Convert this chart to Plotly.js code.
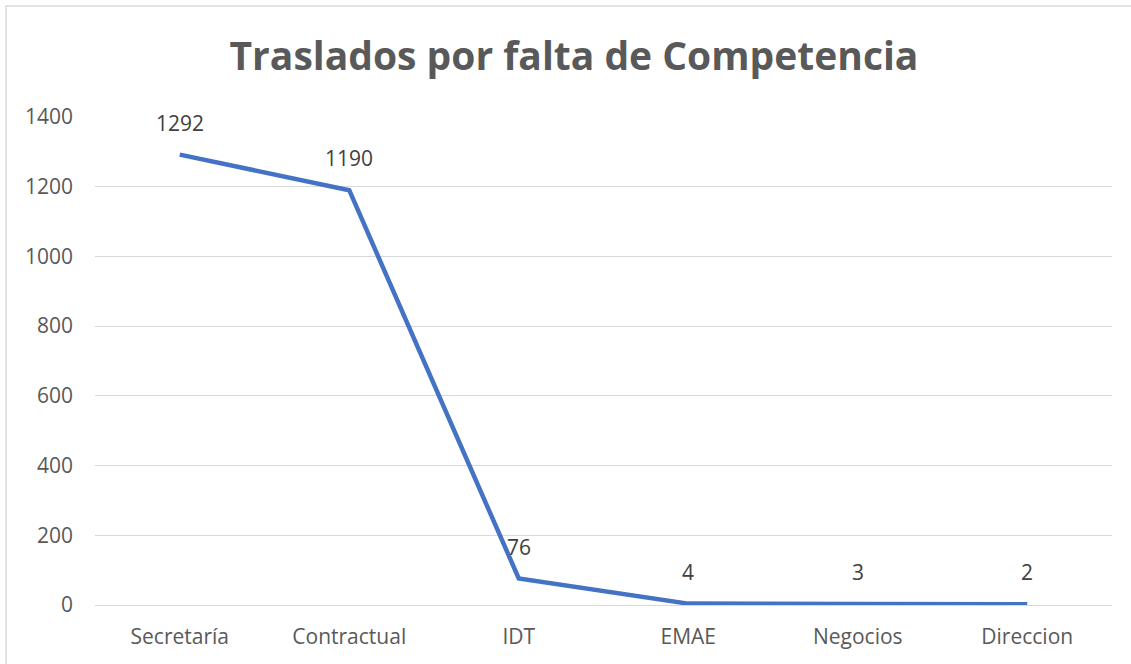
<!DOCTYPE html>
<html>
<head>
<meta charset="utf-8">
<script src="https://cdn.plot.ly/plotly-3.0.1.min.js"></script>
<style>
  html, body { margin: 0; padding: 0; background: #fff; }
  #myDiv { width: 1131px; height: 664px; }
</style>
</head>
<body>
<div id="myDiv"></div>
<script>
var categories = ['Secretaría', 'Contractual', 'IDT', 'EMAE', 'Negocios', 'Direccion'];
var traslados = [1292, 1190, 76, 4, 3, 2];
var yTicks = [0, 200, 400, 600, 800, 1000, 1200, 1400];

var textColor = '#595959';
var labelColor = '#404040';
var fontFamily = 'Open Sans, Liberation Sans, sans-serif';

var data = [{
  x: categories,
  y: traslados,
  type: 'scatter',
  mode: 'lines',
  line: {color: '#4472C4', width: 4.5},
  hoverinfo: 'x+y'
}];

// data labels above each point
var labels = categories.map(function (c, i) {
  return {
    x: c,
    y: traslados[i],
    xref: 'x',
    yref: 'y',
    text: String(traslados[i]),
    showarrow: false,
    yshift: 32,
    font: {family: fontFamily, size: 21, color: labelColor}
  };
});

var layout = {
  title: {
    text: '<b>Traslados por falta de Competencia</b>',
    font: {family: fontFamily, size: 39, color: textColor},
    x: 0.5075,
    xref: 'container',
    xanchor: 'center',
    y: 0.915,
    yref: 'container',
    yanchor: 'middle'
  },
  width: 1131,
  height: 664,
  margin: {l: 95, r: 19, t: 117, b: 59},
  paper_bgcolor: '#fff',
  plot_bgcolor: '#fff',
  showlegend: false,
  xaxis: {
    type: 'category',
    range: [-0.5, 5.5],
    showgrid: false,
    zeroline: false,
    showline: false,
    ticks: '',
    ticklabelstandoff: 17,
    tickfont: {family: fontFamily, size: 21, color: textColor}
  },
  yaxis: {
    range: [0, 1400],
    tickvals: yTicks,
    showgrid: true,
    gridcolor: '#d9d9d9',
    gridwidth: 1,
    zeroline: true,
    zerolinecolor: '#d9d9d9',
    zerolinewidth: 1,
    showline: false,
    ticks: '',
    ticklabelstandoff: 21,
    tickfont: {family: fontFamily, size: 21, color: textColor}
  },
  annotations: labels,
  shapes: [{
    type: 'rect',
    xref: 'paper',
    yref: 'paper',
    x0: -0.0875,
    x1: 1.06,
    y0: -0.14,
    y1: 1.2275,
    line: {color: '#d9d9d9', width: 1.5},
    layer: 'below'
  }]
};

Plotly.newPlot('myDiv', data, layout, {displayModeBar: false});
</script>
</body>
</html>
